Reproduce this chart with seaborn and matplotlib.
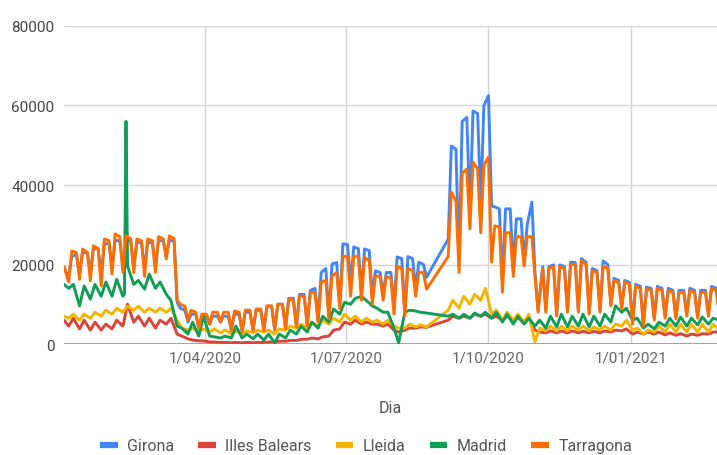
import numpy as np
import pandas as pd
import matplotlib.pyplot as plt
from matplotlib.lines import Line2D
import seaborn as sns

nan = np.nan

regions = ['Girona', 'Illes Balears', 'Lleida', 'Madrid', 'Tarragona']
colors = ['#4285F4', '#DB4437', '#F4B400', '#0F9D58', '#FF6D01']

# Girona / Tarragona: 1 Jan 2020, then per week Saturday dip, Monday and Thursday values
girona = [19000,
          17000, 22000, 22500, 18000, 23000, 23000, 18000, 24000, 24000, 17500, 25000, 25500,
          19000, 26000, 26000, 19500, 26000, 26000, 19500, 25500, 25500, 19000, 25500, 25500,
          19500, 26000, 26000, 22000, 26000, 26000, 10500, 9000, 8500, 5500, 7500, 7500,
          4000, 7000, 7000, 5000, 7000, 7000, 5500, 7000, 7000, 3500, 7500, 7500,
          3200, 8000, 8000, 3500, 8500, 8500, 3500, 9500, 9500, 3700, 10000, 10000,
          4000, 11500, 11500, 4500, 12500, 12500, 4800, 13500, 14000, 5800, 18000, 19000,
          6800, 20100, 20500, 9500, 25200, 25000, 15000, 24400, 24000, 13000, 23900, 23500,
          12000, 18400, 18000, 12500, 18000, 18000, 9000, 21900, 21500, 8000, 22000, 21500,
          14000, 20600, 20000, 16800, nan, nan, nan, nan, nan, 26400, 49800, 49000,
          19600, 56000, 57000, 33000, 58600, 58000, 34700, 60000, 62500, 34700, 34500, 34000,
          16000, 34000, 34000, 19000, 31500, 31500, 21000, 30000, 35700, 18000, 8500, 19500,
          8500, 19500, 19900, 7500, 19900, 19500, 8500, 20600, 20500, 8500, 21500, 20500,
          8000, 19000, 18500, 8500, 20900, 20000, 10000, 16500, 16000, 9300, 16000, 15500,
          5500, 15000, 14500, 5000, 14300, 14000, 6500, 14500, 14000, 7000, 14000, 13500,
          6800, 13500, 13500, 7500, 14000, 13500, 7000, 13500, 13500, 7500, 14500, 14000,
          7500]

tarragona = [19500,
             15600, 23400, 23000, 16300, 23900, 23000, 15900, 24700, 24000, 14600, 26400, 26000,
             17600, 27700, 27000, 18000, 27200, 26500, 18000, 26400, 26000, 17000, 26400, 26000,
             18000, 27000, 26500, 21400, 27200, 26500, 11000, 10000, 9500, 6000, 8500, 8000,
             4000, 7500, 7500, 5000, 8000, 8000, 5500, 8000, 8000, 3300, 8300, 8000,
             3000, 8500, 8500, 3300, 8800, 8800, 3300, 9600, 9600, 3500, 10000, 10000,
             3800, 11300, 11000, 4300, 12100, 12000, 4500, 13000, 13000, 5500, 15600, 16000,
             6300, 17100, 18000, 8800, 22100, 22000, 12000, 22100, 22000, 11000, 21800, 21000,
             10000, 17100, 17000, 11000, 17000, 16500, 7500, 19500, 19000, 7000, 19000, 18500,
             12000, 18100, 18000, 13800, nan, nan, nan, nan, nan, 22000, 38200, 36000,
             18000, 43000, 44000, 29000, 45800, 44000, 28000, 45000, 47000, 20600, 29700, 29500,
             13000, 28000, 28000, 17000, 27000, 27000, 19600, 27000, 27000, 17000, 8000, 19000,
             8000, 19000, 19400, 7000, 19400, 19000, 8000, 20100, 20000, 8000, 21000, 20000,
             7500, 18400, 18000, 8000, 19600, 19000, 9600, 16000, 15500, 8800, 15600, 15000,
             5000, 14600, 14000, 4500, 13800, 13500, 6000, 14000, 13500, 6500, 13500, 13000,
             6300, 13000, 13000, 7000, 13500, 13000, 6500, 13000, 13000, 7000, 14000, 13500,
             7000]

# other regions: 1 Jan 2020, then per week Saturday and Tuesday values
illes_balears = [6000,
                 4500, 6500, 3800, 6000, 3500, 5500, 3500, 5000,
                 3800, 6000, 4500, 10000, 5500, 7000, 4500, 6500,
                 4000, 6000, 5000, 6500, 2500, 2000, 1300, 1000,
                 800, 800, 500, 500, 400, 400, 300, 400,
                 300, 400, 300, 400, 400, 500, 500, 700,
                 700, 900, 900, 1200, 1200, 1500, 1300, 1800,
                 2000, 3500, 3800, 5500, 5000, 6000, 5000, 5500,
                 5000, 5000, 4500, 5000, 3500, 3000, 3500, 4000,
                 4000, 4300, 4200, nan, nan, nan, 6000, 7000,
                 6500, 7000, 6500, 7500, 7000, 7500, 6500, 7000,
                 6000, 7000, 6000, 6500, 5500, 6500, 3500, 3000,
                 2800, 3300, 2800, 3300, 2800, 3300, 2800, 3200,
                 2800, 3200, 2800, 3300, 3000, 3500, 3300, 3800,
                 2500, 3000, 2500, 3000, 2500, 3000, 2300, 2800,
                 2200, 2600, 2000, 2500, 2200, 2600, 2500, 3000,
                 3000]

lleida = [7000,
          6500, 7500, 6000, 7500, 6500, 8000, 7000, 8500,
          7500, 9000, 8000, 9500, 8500, 9500, 8000, 9000,
          8000, 9000, 8000, 9000, 6000, 4000, 3500, 4000,
          3000, 3800, 3000, 3800, 2800, 3500, 2500, 3300,
          2500, 3300, 2800, 3500, 3000, 3500, 2500, 3800,
          3500, 4500, 4000, 5000, 4000, 5500, 4500, 6000,
          5000, 6500, 5500, 7500, 6000, 7000, 5500, 6500,
          5500, 6000, 5000, 6000, 4500, 4000, 4000, 5000,
          4300, 4800, 4300, nan, nan, nan, 8500, 11000,
          9000, 12000, 10000, 12500, 11000, 14000, 7500, 8500,
          6000, 8000, 6000, 7500, 5500, 7500, 500, 4000,
          3300, 4500, 3300, 4500, 3300, 4500, 3500, 4500,
          3300, 4300, 3500, 4500, 3500, 5000, 4500, 6000,
          3500, 4000, 2500, 3500, 3000, 4500, 3000, 5000,
          3000, 5000, 3000, 5000, 3000, 5000, 3000, 5000,
          3500]

madrid = [15000,
          14000, 15000, 9600, 14600, 11300, 15000, 12000, 15600,
          12000, 16300, 12000, 19600, 15000, 16000, 13800, 17600,
          14000, 15600, 12500, 11000, 4500, 4000, 2500, 5500,
          2000, 7000, 2000, 1800, 1500, 2000, 1500, 4500,
          1500, 2500, 1300, 2500, 1000, 2500, 300, 2500,
          1500, 3500, 2500, 4500, 3000, 5500, 4000, 7000,
          5500, 8800, 7500, 10500, 10000, 11500, 12000, 11000,
          9600, 9000, 8000, 8000, 4000, 300, 8000, 8500,
          8300, 8000, 7800, nan, nan, nan, 7000, 7500,
          6500, 7500, 6500, 7800, 7000, 8000, 6500, 8000,
          5500, 7500, 5000, 7000, 5000, 6500, 4500, 6000,
          4000, 7000, 4300, 7500, 4300, 7000, 4500, 7500,
          4300, 7000, 4500, 7500, 5500, 9600, 8000, 9000,
          6000, 6500, 4000, 5000, 3800, 5500, 4500, 6500,
          4500, 6800, 4500, 6500, 4800, 6800, 5000, 6500,
          6000]
# the one-day peak in Madrid
madrid_spike_dates = ['2020-02-09', '2020-02-10']
madrid_spike = [12500, 56000]

tick_dates = ['2020-04-01', '2020-07-01', '2020-10-01', '2021-01-01']
tick_labels = ['1/04/2020', '1/07/2020', '1/10/2020', '1/01/2021']
y_ticks = [0, 20000, 40000, 60000, 80000]

start = pd.Timestamp('2020-01-01')
sats = pd.date_range('2020-01-04', periods=61, freq='7D')
tues = pd.date_range('2020-01-07', periods=60, freq='7D')
mons = pd.date_range('2020-01-06', periods=60, freq='7D')
thus = pd.date_range('2020-01-09', periods=60, freq='7D')
dates2 = [start] + [d for p in zip(sats, tues) for d in p] + [sats[-1]]
dates3 = [start] + [d for p in zip(sats, mons, thus) for d in p] + [sats[-1]]

series = {'Girona': (dates3, girona), 'Illes Balears': (dates2, illes_balears),
          'Lleida': (dates2, lleida), 'Madrid': (dates2, madrid),
          'Tarragona': (dates3, tarragona)}
frames = [pd.DataFrame({'Dia': d, 'valor': v, 'regio': k}) for k, (d, v) in series.items()]
frames.append(pd.DataFrame({'Dia': pd.to_datetime(madrid_spike_dates),
                            'valor': madrid_spike, 'regio': 'Madrid'}))
df = pd.concat(frames, ignore_index=True)

sns.set_theme(style='whitegrid')
plt.rcParams['font.family'] = ['Roboto', 'DejaVu Sans']

fig = plt.figure(figsize=(7.17, 4.56), dpi=100)
ax = fig.add_axes([0.0893, 0.2434, 0.9107, 0.6974])

sns.lineplot(data=df, x='Dia', y='valor', hue='regio', hue_order=regions,
             palette=colors, linewidth=2.1, estimator=None, legend=False, ax=ax)

ax.set_xlim(start, start + pd.Timedelta(days=421.5))
ax.set_ylim(0, 80000)
ax.set_xticks(pd.to_datetime(tick_dates))
ax.set_xticklabels(tick_labels)
ax.set_yticks(y_ticks)
ax.set_yticklabels([str(v) for v in y_ticks])
ax.tick_params(axis='x', length=0, pad=5, labelsize=11, labelcolor='#666666')
ax.tick_params(axis='y', length=0, pad=7, labelsize=11, labelcolor='#444444')
ax.grid(True, color='#d4d4d4', linewidth=1)
ax.axhline(0, color='#999999', linewidth=2, zorder=1.5)
for s in ax.spines.values():
    s.set_visible(False)

ax.set_ylabel('')
ax.set_xlabel('Dia', fontsize=11.5, color='#555555')
ax.xaxis.set_label_coords(0.5, -0.176)

handles = [Line2D([], [], color=c, linewidth=4.5, solid_capstyle='butt') for c in colors]
leg = fig.legend(handles, regions, loc='center', bbox_to_anchor=(366 / 717, 1 - 447 / 456),
                 ncol=5, frameon=False, fontsize=11.5, handlelength=1.1,
                 handletextpad=0.6, columnspacing=1.5)
for t in leg.get_texts():
    t.set_color('#555555')

fig.savefig('out.png', dpi=100)
